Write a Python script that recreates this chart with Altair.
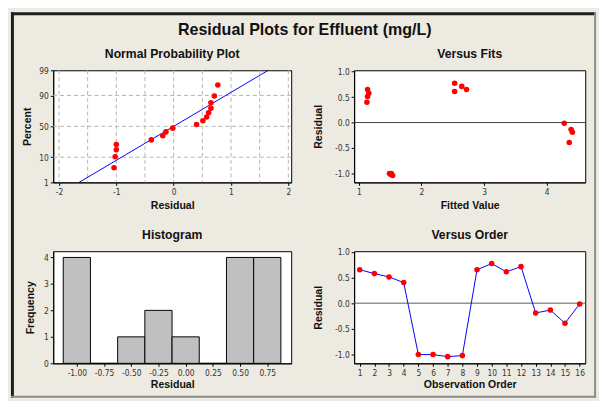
import altair as alt
import pandas as pd
from statistics import NormalDist

# ---------------- data ----------------
obs = list(range(1, 17))
resid = [0.65, 0.575, 0.51, 0.40, -1.00, -1.00, -1.04, -1.02,
         0.65, 0.77, 0.61, 0.71, -0.19, -0.135, -0.39, -0.015]
fits = [1.14, 1.16, 1.14, 1.13, 1.49, 1.52, 1.54, 1.51,
        2.72, 2.53, 2.53, 2.645, 4.41, 4.39, 4.36, 4.28]
npp_pct = [4.3, 10.4, 16.5, 22.6, 28.7, 34.8, 40.9, 47.0,
           53.0, 59.1, 65.2, 71.3, 77.4, 83.5, 89.6, 95.7]
fit_line_resid = [-1.65, 1.65]
fit_line_pct = [1, 99]
pct_ticks = [1, 10, 50, 90, 99]
pct_grid = [10, 50, 90]
resid_grid = [-2, -1.5, -1, -0.5, 0, 0.5, 1, 1.5, 2]
resid_ticks = [-2, -1, 0, 1, 2]
fit_ticks = [1, 2, 3, 4]
res_ticks = [-1.0, -0.5, 0.0, 0.5, 1.0]
hist_centers = [-1.00, -0.75, -0.50, -0.25, 0.00, 0.25, 0.50, 0.75]
hist_counts = [4, 0, 1, 2, 1, 0, 4, 4]
hist_width = 0.25
freq_ticks = [0, 1, 2, 3, 4]

main_title = "Residual Plots for Effluent (mg/L)"
titles = ["Normal Probability Plot", "Versus Fits", "Histogram", "Versus Order"]

# ---------------- styles ----------------
BEIGE = "#EDEAE1"
TITLE_FONT = "Liberation Sans, Arial, sans-serif"
LABEL_FONT = "Liberation Sans Narrow, DejaVu Sans Condensed, Liberation Sans, sans-serif"
WL, WR, H = 242, 235, 114
MINUS = "replace(datum.label, '\u2212', '-')"

nd = NormalDist()
zf = lambda p: nd.inv_cdf(p / 100.0)

npp_df = pd.DataFrame({"resid": sorted(resid), "pct": npp_pct})
npp_df["z"] = npp_df["pct"].map(zf)
line_df = pd.DataFrame({"resid": fit_line_resid, "pct": fit_line_pct})
line_df["z"] = line_df["pct"].map(zf)
gx_df = pd.DataFrame({"resid": resid_grid})
gy_df = pd.DataFrame({"z": [zf(p) for p in pct_grid]})
main_df = pd.DataFrame({"obs": obs, "resid": resid, "fit": fits})
zero_df = pd.DataFrame({"resid": [0.0]})
hist_df = pd.DataFrame({"c": hist_centers, "n": hist_counts})
hist_df["lo"] = hist_df["c"] - hist_width / 2
hist_df["hi"] = hist_df["c"] + hist_width / 2
one = pd.DataFrame({"k": [0]})

z_ticks = [zf(p) for p in pct_ticks]
pct_label = " : ".join(
    f"abs(datum.value - ({z:.5f})) < 0.001 ? '{p}'" for z, p in zip(z_ticks, pct_ticks)
) + " : ''"


def ptitle(txt, w, y):
    return alt.Chart(pd.DataFrame({"t": [txt]})).mark_text(
        font=TITLE_FONT, fontSize=12.4, fontWeight="bold", color="#111111",
        align="center", baseline="alphabetic"
    ).encode(text="t:N", x=alt.value(w / 2), y=alt.value(y))


def xaxis(values, title, fmt, ty):
    return alt.Axis(values=values, title=title, format=fmt, labelExpr=MINUS,
                    titleY=ty, titleBaseline="alphabetic")


def yaxis(values, title, tx, fmt=None, expr=MINUS):
    kw = dict(values=values, title=title, labelExpr=expr, titleX=tx,
              titleBaseline="middle")
    if fmt:
        kw["format"] = fmt
    return alt.Axis(**kw)


# ---------------- Normal probability plot ----------------
X_npp = alt.X("resid:Q", scale=alt.Scale(domain=[-2.1, 2.05], nice=False, zero=False),
              axis=xaxis(resid_ticks, "Residual", "d", 27))
Y_npp = alt.Y("z:Q", scale=alt.Scale(domain=[zf(1), zf(99)], nice=False, zero=False),
              axis=yaxis(z_ticks, "Percent", -26, expr=pct_label))

frame_l = alt.Chart(one).mark_rect(color="#1E1E1E").encode(
    x=alt.value(-43), x2=alt.value(-40), y=alt.value(-59), y2=alt.value(333))
frame_t = alt.Chart(one).mark_rect(color="#1E1E1E").encode(
    x=alt.value(-43), x2=alt.value(552), y=alt.value(-59), y2=alt.value(-56))
frame_r = alt.Chart(one).mark_rect(color="#8C8C8C").encode(
    x=alt.value(550), x2=alt.value(552), y=alt.value(-59), y2=alt.value(333))
frame_b = alt.Chart(one).mark_rect(color="#8C8C8C").encode(
    x=alt.value(-43), x2=alt.value(552), y=alt.value(331), y2=alt.value(333))
mtitle = alt.Chart(pd.DataFrame({"t": [main_title]})).mark_text(
    font=TITLE_FONT, fontSize=16.3, fontWeight="bold", color="#111111",
    align="center", baseline="alphabetic"
).encode(text="t:N", x=alt.value(255.8), y=alt.value(-35.7))

gx = alt.Chart(gx_df).mark_rule(color="#B4B4B4", strokeDash=[4, 3], strokeWidth=1).encode(x=X_npp)
gy = alt.Chart(gy_df).mark_rule(color="#B4B4B4", strokeDash=[4, 3], strokeWidth=1).encode(y=Y_npp)
fline = alt.Chart(line_df).mark_line(color="#0000FF", strokeWidth=1).encode(x=X_npp, y=Y_npp)
npts = alt.Chart(npp_df).mark_circle(color="#FF0000", size=32, opacity=1).encode(x=X_npp, y=Y_npp)

npp = alt.layer(frame_l, frame_t, frame_r, frame_b, mtitle, gx, gy, fline, npts,
                ptitle(titles[0], WL, -13)).properties(width=WL, height=H)

# ---------------- Versus fits ----------------
X_fit = alt.X("fit:Q", scale=alt.Scale(domain=[0.926, 4.615], nice=False, zero=False),
              axis=xaxis(fit_ticks, "Fitted Value", "d", 27))
Y_res_f = alt.Y("resid:Q", scale=alt.Scale(domain=[-1.175, 1.026], nice=False, zero=False),
                axis=yaxis(res_ticks, "Residual", -36, fmt=".1f"))
zf_rule = alt.Chart(zero_df).mark_rule(color="#404040", strokeWidth=1).encode(y=Y_res_f)
fpts = alt.Chart(main_df).mark_circle(color="#FF0000", size=32, opacity=1).encode(x=X_fit, y=Y_res_f)
vfits = alt.layer(zf_rule, fpts, ptitle(titles[1], WR, -13)).properties(width=WR, height=H)

# ---------------- Histogram ----------------
X_h = alt.X("lo:Q", scale=alt.Scale(domain=[-1.217, 0.97], nice=False, zero=False),
            axis=xaxis(hist_centers, "Residual", ".2f", 24.5))
Y_h = alt.Y("n:Q", scale=alt.Scale(domain=[0, 4.235], nice=False, zero=False),
            axis=yaxis(freq_ticks, "Frequency", -23, fmt="d"))
bars = alt.Chart(hist_df).mark_bar(color="#C0C0C0", stroke="#000000", strokeWidth=1,
                                   opacity=1).encode(x=X_h, x2="hi:Q", y=Y_h, y2=alt.datum(0))
hist = alt.layer(bars, ptitle(titles[2], WL, -12.7)).properties(width=WL, height=H)

# ---------------- Versus order ----------------
X_o = alt.X("obs:Q", scale=alt.Scale(domain=[0.62, 16.38], nice=False, zero=False),
            axis=xaxis(obs, "Observation Order", "d", 24.5))
Y_res_o = alt.Y("resid:Q", scale=alt.Scale(domain=[-1.17, 1.01], nice=False, zero=False),
                axis=yaxis(res_ticks, "Residual", -36, fmt=".1f"))
zo_rule = alt.Chart(zero_df).mark_rule(color="#5A5A5A", strokeWidth=1).encode(y=Y_res_o)
oline = alt.Chart(main_df).mark_line(color="#0000FF", strokeWidth=1).encode(x=X_o, y=Y_res_o)
opts = alt.Chart(main_df).mark_circle(color="#FF0000", size=32, opacity=1).encode(x=X_o, y=Y_res_o)
vorder = alt.layer(zo_rule, oline, opts, ptitle(titles[3], WR, -12.7)).properties(width=WR, height=H)

chart = alt.concat(
    npp, vfits, hist, vorder,
    columns=2, spacing={"row": 70, "column": 64}, bounds="flush",
).configure(
    background=BEIGE,
    padding={"left": 2, "top": 0, "right": 2, "bottom": 1},
).configure_view(
    stroke="#000000", strokeWidth=1, fill="#FFFFFF",
).configure_axis(
    grid=False, domainColor="#000000", domainWidth=1,
    tickColor="#000000", tickSize=3, tickWidth=1,
    labelFont=LABEL_FONT, labelFontSize=8.5, labelColor="#333333", labelPadding=2,
    labelFlush=False, labelOverlap=False,
    titleFont=TITLE_FONT, titleFontSize=10.7, titleFontWeight="bold", titleColor="#111111",
)

chart.save("out.html", embed_options={"renderer": "svg", "actions": False})
